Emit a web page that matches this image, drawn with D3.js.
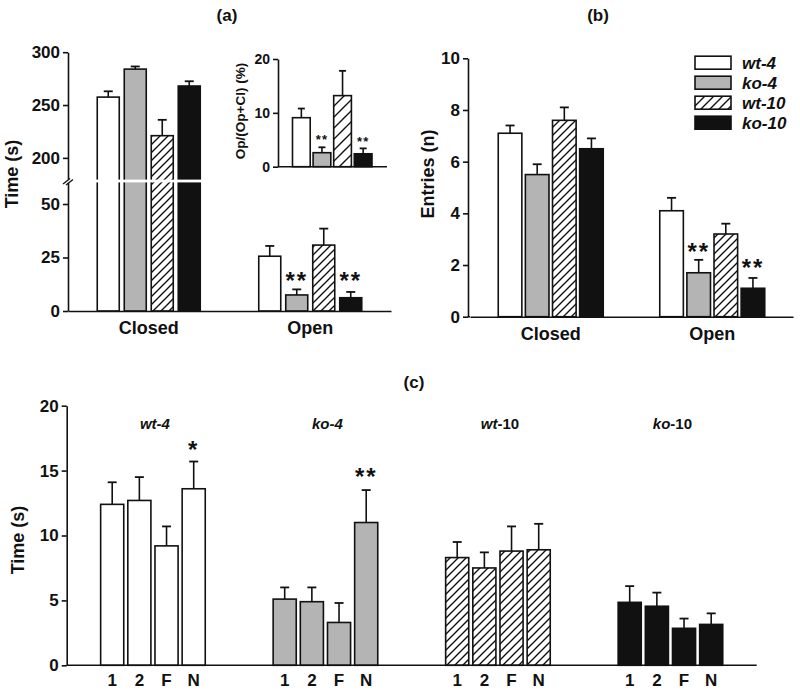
<!DOCTYPE html>
<html><head><meta charset="utf-8">
<script src="https://cdn.jsdelivr.net/npm/d3@7"></script>
<style>
body{margin:0;background:#fff;}
svg text{font-family:"Liberation Sans",Arial,sans-serif;font-weight:bold;fill:#111;}
</style></head>
<body><svg id="c" width="800" height="691"></svg>
<script>
// ---------- data ----------
const genotypes = ["wt-4","ko-4","wt-10","ko-10"];
const arms = ["Closed","Open"];
// (a) time in arms (s)
const timeClosed    = [257.5, 284, 221, 268];
const timeClosedSem = [5.5, 2.5, 15, 4.5];
const timeOpen      = [25.6, 7.5, 30.8, 6.2];
const timeOpenSem   = [4.8, 2.6, 7.7, 2.7];
const timeOpenSig   = ["", "**", "", "**"];
// (a) inset: Op/(Op+Cl) (%)
const ratio    = [9.1, 2.6, 13.2, 2.4];
const ratioSem = [1.7, 1.0, 4.6, 1.0];
const ratioSig = ["", "**", "", "**"];
// (b) entries (n)
const entriesClosed    = [7.1, 5.5, 7.6, 6.5];
const entriesClosedSem = [0.3, 0.4, 0.5, 0.4];
const entriesOpen      = [4.1, 1.7, 3.2, 1.1];
const entriesOpenSem   = [0.5, 0.5, 0.4, 0.4];
const entriesOpenSig   = ["", "**", "", "**"];
// (c) time (s) per session
const sessions = ["1","2","F","N"];
const cWt4  = [12.4, 12.7, 9.2, 13.6];  const cWt4Sem  = [1.7, 1.8, 1.5, 2.1];  const cWt4Sig  = ["","","","*"];
const cKo4  = [5.1, 4.9, 3.3, 11.0];    const cKo4Sem  = [0.9, 1.1, 1.5, 2.5];  const cKo4Sig  = ["","","","**"];
const cWt10 = [8.3, 7.5, 8.8, 8.9];     const cWt10Sem = [1.2, 1.2, 1.9, 2.0];  const cWt10Sig = ["","","",""];
const cKo10 = [4.85, 4.55, 2.85, 3.15]; const cKo10Sem = [1.25, 1.05, 0.75, 0.85]; const cKo10Sig = ["","","",""];
const ticksATop = [200, 250, 300];
const ticksABottom = [0, 25, 50];
const ticksInset = [0, 10, 20];
const ticksB = [0, 2, 4, 6, 8, 10];
const ticksC = [0, 5, 10, 15, 20];

// ---------- setup ----------
const svg = d3.select("#c");
const defs = svg.append("defs");
function hatch(id, s, w){
  defs.append("pattern").attr("id", id).attr("patternUnits","userSpaceOnUse")
    .attr("width", s).attr("height", s)
    .call(p => {
      p.append("rect").attr("width", s).attr("height", s).attr("fill","#fff");
      p.append("path").attr("d", `M${-s/2},${s/2} L${s/2},${-s/2} M0,${s} L${s},0 M${s/2},${1.5*s} L${1.5*s},${s/2}`)
        .attr("stroke","#111").attr("stroke-width", w);
    });
}
hatch("h8", 8, 1.4);
hatch("h11", 11, 1.4);
hatch("h9", 9, 1.4);
const GRAY = "#b4b4b4";
const fills = {"wt-4":"#fff","ko-4":GRAY,"wt-10":"url(#h8)","ko-10":"#111"};

function styleAxis(g, fs){
  g.selectAll("path.domain").attr("stroke","#111").attr("stroke-width",1.6);
  g.selectAll(".tick line").attr("stroke","#111").attr("stroke-width",1.6);
  g.selectAll("text").attr("font-size", fs).attr("font-family",'"Liberation Sans",Arial,sans-serif').attr("font-weight","bold").attr("fill","#111");
}
function star(g, x, cy, txt, fs){
  if(!txt) return;
  g.append("text").attr("x", x).attr("y", cy + fs*0.56).attr("text-anchor","middle")
    .attr("font-size", fs).attr("letter-spacing", fs*0.08).text(txt);
}
function bars(g, data, xc, bw, y, y0, fillOf, capW){
  data.forEach(d => {
    const x = xc(d);
    const top = y(d.v), bot = y0;
    g.append("rect").attr("x", x).attr("y", top).attr("width", bw).attr("height", bot - top)
      .attr("fill", fillOf(d)).attr("stroke","#111").attr("stroke-width",1.6);
    const ex = x + bw/2, et = y(d.v + d.e);
    g.append("line").attr("x1",ex).attr("x2",ex).attr("y1",top).attr("y2",et).attr("stroke","#111").attr("stroke-width",1.6);
    g.append("line").attr("x1",ex-capW/2).attr("x2",ex+capW/2).attr("y1",et).attr("y2",et).attr("stroke","#111").attr("stroke-width",1.8);
  });
}

// ---------- panel (a) ----------
{
  const g = svg.append("g");
  const xA = d3.scaleBand().domain(arms).range([68, 391]);
  const x1 = d3.scaleBand().domain(genotypes).range([-51.5, 51.5]).paddingInner(0.185);
  const yTop = d3.scaleLinear().domain([180, 300]).range([179, 52.2]);
  const yBot = d3.scaleLinear().domain([0, 60]).range([311, 182.6]);
  const yA = v => v >= 180 ? yTop(v) : yBot(v);
  const dat = [];
  genotypes.forEach((k,i)=>{ dat.push({arm:"Closed",k,v:timeClosed[i],e:timeClosedSem[i]}); dat.push({arm:"Open",k,v:timeOpen[i],e:timeOpenSem[i],s:timeOpenSig[i]}); });
  bars(g, dat, d => xA(d.arm) + xA.bandwidth()/2 + x1(d.k), x1.bandwidth(), yA, yBot(0), d => fills[d.k], 9);
  // break band
  g.append("rect").attr("x", 40).attr("y", 179.6).attr("width", 170).attr("height", 2.8).attr("fill","#fff");
  dat.filter(d=>d.s).forEach(d => star(g, xA(d.arm)+xA.bandwidth()/2 + x1(d.k) + x1.bandwidth()/2, 276, d.s, 24));
  const ax1 = g.append("g").attr("transform","translate(68,0)").call(d3.axisLeft(yTop).tickValues(ticksATop).tickSize(5).tickPadding(3).tickSizeOuter(0));
  styleAxis(ax1, 17);
  const ax2 = g.append("g").attr("transform","translate(68,0)").call(d3.axisLeft(yBot).tickValues(ticksABottom).tickSize(5).tickPadding(3).tickSizeOuter(0));
  styleAxis(ax2, 17);
  // break marks
  g.append("line").attr("x1",63).attr("y1",184).attr("x2",70).attr("y2",178.5).attr("stroke","#111").attr("stroke-width",1.3);
  g.append("line").attr("x1",66).attr("y1",185).attr("x2",73).attr("y2",179.5).attr("stroke","#111").attr("stroke-width",1.3);
  const axx = g.append("g").attr("transform",`translate(0,${yBot(0)})`).call(d3.axisBottom(xA).tickSize(0).tickPadding(10).tickSizeOuter(0));
  styleAxis(axx, 18);
  g.append("text").attr("transform","translate(18,174) rotate(-90)").attr("text-anchor","middle").attr("font-size",18).text("Time (s)");
  g.append("text").attr("x",227).attr("y",21).attr("text-anchor","middle").attr("font-size",17).text("(a)");

  // inset
  const xi = d3.scaleBand().domain(genotypes).range([292.5, 372]).paddingInner(0.14);
  const yi = d3.scaleLinear().domain([0, 20]).range([166.7, 59]);
  const idat = genotypes.map((k,i)=>({k, v:ratio[i], e:ratioSem[i], s:ratioSig[i]}));
  bars(g, idat, d => xi(d.k), xi.bandwidth(), yi, yi(0), d => d.k==="wt-10" ? "url(#h11)" : fills[d.k], 7);
  idat.filter(d=>d.s).forEach(d => star(g, xi(d.k)+xi.bandwidth()/2, d.k==="ko-4"?136.7:139, d.s, 13));
  const ai = g.append("g").attr("transform","translate(278,0)").call(d3.axisLeft(yi).tickValues(ticksInset).tickSize(5).tickPadding(3).tickSizeOuter(0));
  styleAxis(ai, 14);
  g.append("line").attr("x1",278).attr("x2",387).attr("y1",yi(0)).attr("y2",yi(0)).attr("stroke","#111").attr("stroke-width",1.6);
  g.append("text").attr("transform","translate(245,111) rotate(-90)").attr("text-anchor","middle").attr("font-size",13.5).text("Op/(Op+Cl) (%)");
}

// ---------- panel (b) ----------
{
  const g = svg.append("g");
  const xB = d3.scaleBand().domain(arms).range([470, 793]);
  const x1 = d3.scaleBand().domain(genotypes).range([-52.5, 52.5]).paddingInner(0.13);
  const yB = d3.scaleLinear().domain([0, 10]).range([316.7, 58.3]);
  const dat = [];
  genotypes.forEach((k,i)=>{ dat.push({arm:"Closed",k,v:entriesClosed[i],e:entriesClosedSem[i]}); dat.push({arm:"Open",k,v:entriesOpen[i],e:entriesOpenSem[i],s:entriesOpenSig[i]}); });
  bars(g, dat, d => xB(d.arm)+xB.bandwidth()/2 + x1(d.k), x1.bandwidth(), yB, yB(0), d => fills[d.k], 9);
  dat.filter(d=>d.s).forEach(d => star(g, xB(d.arm)+xB.bandwidth()/2 + x1(d.k)+x1.bandwidth()/2, d.k==="ko-4"?246.7:263, d.s, 24));
  const ay = g.append("g").attr("transform","translate(468,0)").call(d3.axisLeft(yB).tickValues(ticksB).tickSize(5).tickPadding(3).tickSizeOuter(0));
  styleAxis(ay, 17);
  const ax = g.append("g").attr("transform",`translate(0,${yB(0)})`).call(d3.axisBottom(xB).tickSize(0).tickPadding(10.5).tickSizeOuter(0));
  styleAxis(ax, 18);
  g.append("line").attr("x1",468).attr("x2",470).attr("y1",yB(0)).attr("y2",yB(0)).attr("stroke","#111").attr("stroke-width",1.6);
  g.append("text").attr("transform","translate(434,174) rotate(-90)").attr("text-anchor","middle").attr("font-size",18).text("Entries (n)");
  g.append("text").attr("x",598).attr("y",21).attr("text-anchor","middle").attr("font-size",17).text("(b)");
  // legend
  const lg = g.append("g");
  genotypes.forEach((k,i) => {
    const cy = 62.7 + i*20;
    lg.append("rect").attr("x",695).attr("y",cy-6.5).attr("width",36).attr("height",13)
      .attr("fill", k==="wt-10" ? "url(#h9)" : fills[k]).attr("stroke","#111").attr("stroke-width",1.6);
    const [a,b] = k.split("-");
    const t = lg.append("text").attr("x",742).attr("y",cy+6).attr("font-size",17).attr("font-style","italic");
    t.append("tspan").text(a);
    t.append("tspan").text("-" + b);
  });
}

// ---------- panel (c) ----------
{
  const g = svg.append("g");
  const cVals = [cWt4, cKo4, cWt10, cKo10];
  const cSems = [cWt4Sem, cKo4Sem, cWt10Sem, cKo10Sem];
  const cSigs = [cWt4Sig, cKo4Sig, cWt10Sig, cKo10Sig];
  const xC = d3.scaleBand().domain(genotypes).range([66.7, 756.7]);
  const x1 = d3.scaleBand().domain(sessions).range([-52.3, 52.3]).paddingInner(0.15);
  const yC = d3.scaleLinear().domain([0, 20]).range([665.3, 405.7]);
  const dat = [];
  genotypes.forEach((k,gi) => sessions.forEach((s,si) => dat.push({k, s, v:cVals[gi][si], e:cSems[gi][si], sig:cSigs[gi][si]})));
  bars(g, dat, d => xC(d.k)+xC.bandwidth()/2 + x1(d.s), x1.bandwidth(), yC, yC(0), d => fills[d.k], 9);
  dat.filter(d=>d.sig).forEach(d => star(g, xC(d.k)+xC.bandwidth()/2 + x1(d.s)+x1.bandwidth()/2, d.sig==="*"?445:471.7, d.sig, 24));
  const ay = g.append("g").attr("transform","translate(66.7,0)").call(d3.axisLeft(yC).tickValues(ticksC).tickSize(5).tickPadding(3).tickSizeOuter(0));
  styleAxis(ay, 17);
  g.append("line").attr("x1",66.7).attr("x2",756.7).attr("y1",yC(0)).attr("y2",yC(0)).attr("stroke","#111").attr("stroke-width",1.6);
  // session tick labels through a per-group axis
  genotypes.forEach(k => {
    const sx = d3.scaleBand().domain(sessions).range([xC(k)+xC.bandwidth()/2-52.3, xC(k)+xC.bandwidth()/2+52.3]).paddingInner(0.15);
    const a = g.append("g").attr("transform",`translate(0,${yC(0)})`).call(d3.axisBottom(sx).tickSize(0).tickPadding(8.5).tickSizeOuter(0));
    a.select("path.domain").remove();
    styleAxis(a, 17);
  });
  genotypes.forEach(k => {
    const [a,b] = k.split("-");
    const t = g.append("text").attr("x", xC(k)+xC.bandwidth()/2 + 2).attr("y", 428.5).attr("text-anchor","middle").attr("font-size",15);
    t.append("tspan").attr("font-style","italic").text(a);
    t.append("tspan").attr("font-style", b==="4" ? "italic" : "normal").text("-" + b);
  });
  g.append("text").attr("transform","translate(24,540) rotate(-90)").attr("text-anchor","middle").attr("font-size",18).text("Time (s)");
  g.append("text").attr("x",414).attr("y",388).attr("text-anchor","middle").attr("font-size",17).text("(c)");
}
</script></body></html>
